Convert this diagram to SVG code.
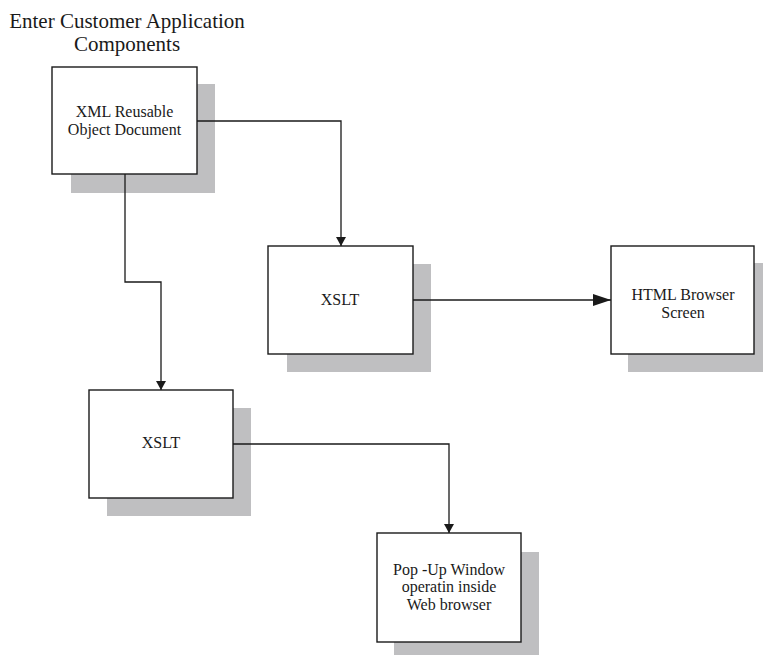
<svg xmlns="http://www.w3.org/2000/svg" width="763" height="655" viewBox="0 0 763 655">
<defs>
<style>
.shadow{fill:#bfbfc1;stroke:none}
.box{fill:#ffffff;stroke:#1a1a1a;stroke-width:1.4}
.lbl{font-family:"Liberation Serif","Times New Roman",serif;font-size:16px;fill:#1a1a1a;text-anchor:middle}
.title{font-family:"Liberation Serif","Times New Roman",serif;font-size:21px;fill:#1a1a1a;text-anchor:middle}
.conn{fill:none;stroke:#1a1a1a;stroke-width:1.3}
</style>
<marker id="arrS" markerUnits="userSpaceOnUse" markerWidth="10" markerHeight="10" refX="9" refY="5" orient="auto">
<path d="M0,0 L9,5 L0,10 Z" fill="#1a1a1a"/>
</marker>
<marker id="arrL" markerUnits="userSpaceOnUse" markerWidth="18" markerHeight="12" refX="18" refY="6" orient="auto">
<path d="M0,0 L18,6 L0,12 Z" fill="#1a1a1a"/>
</marker>
</defs>
<rect width="763" height="655" fill="#ffffff"/>
<g id="title">
<text class="title" x="127" y="28">Enter Customer Application</text>
<text class="title" x="127" y="51">Components</text>
</g>
<g id="node-xml">
<rect class="shadow" x="71" y="84" width="144" height="109"/>
<rect class="box" x="52" y="67" width="145" height="107"/>
<text class="lbl" x="124.5" y="117">XML Reusable</text>
<text class="lbl" x="124.5" y="135">Object Document</text>
</g>
<g id="node-xslt1">
<rect class="shadow" x="287" y="264" width="144" height="108"/>
<rect class="box" x="268" y="246" width="145" height="108"/>
<text class="lbl" x="340" y="305">XSLT</text>
</g>
<g id="node-html">
<rect class="shadow" x="628" y="263" width="145" height="109"/>
<rect class="box" x="611" y="246" width="143" height="108"/>
<text class="lbl" x="683" y="300">HTML Browser</text>
<text class="lbl" x="683" y="318">Screen</text>
</g>
<g id="node-xslt2">
<rect class="shadow" x="107" y="408" width="144" height="108"/>
<rect class="box" x="89" y="390" width="144" height="108"/>
<text class="lbl" x="161" y="448">XSLT</text>
</g>
<g id="node-popup">
<rect class="shadow" x="394" y="552" width="145" height="110"/>
<rect class="box" x="377" y="533" width="144" height="109"/>
<text class="lbl" x="449" y="575">Pop -Up Window</text>
<text class="lbl" x="449" y="592">operatin inside</text>
<text class="lbl" x="449" y="610">Web browser</text>
</g>
<g id="connectors">
<path class="conn" d="M197,121 H341 V246" marker-end="url(#arrS)"/>
<path class="conn" d="M125,174 V282 H161 V390" marker-end="url(#arrS)"/>
<path class="conn" d="M413,300 H611" marker-end="url(#arrL)"/>
<path class="conn" d="M233,444 H449 V533" marker-end="url(#arrS)"/>
</g>
</svg>
